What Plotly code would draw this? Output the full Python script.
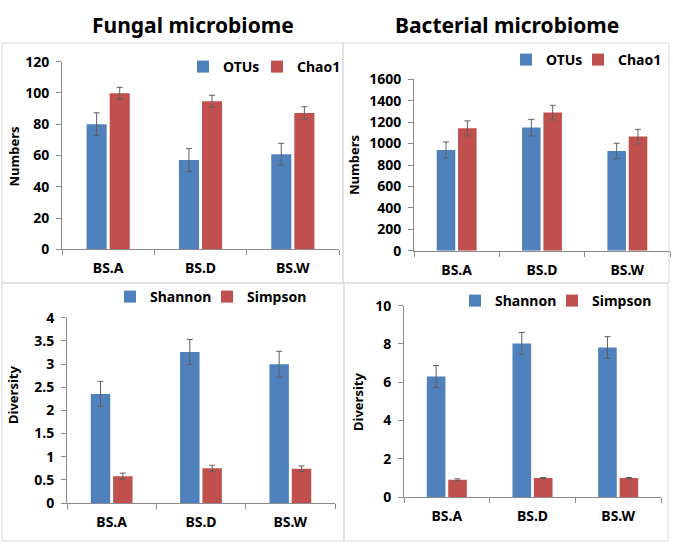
import plotly.graph_objects as go

W, H = 673, 544

categories = ["BS.A", "BS.D", "BS.W"]

fungal_otus = [80.0, 57.1, 60.8]
fungal_otus_err = [7.3, 7.3, 7.0]
fungal_chao1 = [99.8, 94.7, 87.2]
fungal_chao1_err = [3.8, 3.8, 4.0]

bact_otus = [940, 1149, 931]
bact_otus_err = [75, 77, 72]
bact_chao1 = [1142, 1289, 1065]
bact_chao1_err = [70, 68, 68]

fungal_shannon = [2.355, 3.26, 2.995]
fungal_shannon_err = [0.27, 0.27, 0.28]
fungal_simpson = [0.58, 0.75, 0.74]
fungal_simpson_err = [0.065, 0.065, 0.06]

bact_shannon = [6.30, 8.03, 7.81]
bact_shannon_err = [0.57, 0.57, 0.57]
bact_simpson = [0.90, 0.99, 0.99]
bact_simpson_err = [0.05, 0.03, 0.03]

BLUE = "#4F81BD"
RED = "#C0504D"
ERR = "#5f5f5f"
AXIS = "#8c8c8c"
FONT = "Noto Sans"


def px_x(p):
    return p / W


def px_y(p):
    return 1 - p / H


fig = go.Figure()

# (axis id, series, x px range, y px range (bottom, top), yrange, dtick, legend marker centres (x list, y))
panels = [
    ("", [("OTUs", fungal_otus, fungal_otus_err, BLUE), ("Chao1", fungal_chao1, fungal_chao1_err, RED)],
     (62, 339), (249.3, 61.7), [0, 120], 20, ([203, 277], 67)),
    ("2", [("OTUs", bact_otus, bact_otus_err, BLUE), ("Chao1", bact_chao1, bact_chao1_err, RED)],
     (414, 670), (250.7, 79.3), [0, 1600], 200, ([526, 598], 60)),
    ("3", [("Shannon", fungal_shannon, fungal_shannon_err, BLUE), ("Simpson", fungal_simpson, fungal_simpson_err, RED)],
     (67, 335), (503, 317.7), [0, 4], 0.5, ([130, 227], 297)),
    ("4", [("Shannon", bact_shannon, bact_shannon_err, BLUE), ("Simpson", bact_simpson, bact_simpson_err, RED)],
     (404, 661), (497, 305.7), [0, 10], 2, ([475, 572], 301)),
]

tickfont = dict(family=FONT, size=14, color="#000000", weight="bold")
legend_layouts = {}
leg_n = 0
layout_axes = {}
for axid, series, (x0, x1), (yb, yt), yr, dt, (lxs, ly) in panels:
    for (name, vals, errs, col), lx in zip(series, lxs):
        leg_n += 1
        leg = "legend" if leg_n == 1 else "legend%d" % leg_n
        fig.add_trace(go.Bar(
            x=categories, y=vals, name=name,
            marker=dict(color=col, line=dict(width=0)),
            error_y=dict(type="data", array=errs, visible=True, color=ERR, thickness=1, width=3),
            xaxis="x" + axid, yaxis="y" + axid, legend=leg,
        ))
        legend_layouts[leg] = dict(
            x=px_x(lx - 20), y=px_y(ly), xanchor="left", yanchor="middle",
            orientation="h", bgcolor="rgba(0,0,0,0)", itemwidth=30,
            font=dict(family=FONT, size=14, color="#000000", weight="bold"),
        )
    layout_axes["xaxis" + axid] = dict(
        domain=[px_x(x0), px_x(x1)], anchor="y" + axid,
        showline=True, linecolor=AXIS, linewidth=1,
        ticks="outside", ticklen=5, tickcolor=AXIS, tickson="boundaries",
        showgrid=False, zeroline=False, ticklabelstandoff=6,
        tickfont=tickfont, automargin=False,
    )
    layout_axes["yaxis" + axid] = dict(
        domain=[px_y(yb), px_y(yt)], anchor="x" + axid, range=yr, dtick=dt,
        showline=True, linecolor=AXIS, linewidth=1,
        ticks="outside", ticklen=5, tickcolor=AXIS,
        showgrid=False, zeroline=False, ticklabelstandoff=4,
        tickfont=tickfont, automargin=False,
    )

fig.update_layout(
    width=W, height=H,
    margin=dict(l=0, r=0, t=0, b=0, autoexpand=False),
    paper_bgcolor="white", plot_bgcolor="white",
    bargap=0.5, bargroupgap=0.13,
    showlegend=True,
    **legend_layouts,
    **layout_axes,
)

# panel frames
frames = [(2, 43, 343, 283), (343, 43, 669, 283), (2, 283, 344, 541), (344, 283, 668, 541)]
for (a, b, c, d) in frames:
    fig.add_shape(type="rect", xref="paper", yref="paper",
                  x0=px_x(a), x1=px_x(c), y0=px_y(d), y1=px_y(b),
                  line=dict(color="#d9d9d9", width=1), layer="below")

# titles
for txt, xp in [("Fungal microbiome", 193), ("Bacterial microbiome", 507)]:
    fig.add_annotation(text="<b>%s</b>" % txt, x=px_x(xp), y=px_y(25), xref="paper", yref="paper",
                       xanchor="center", yanchor="middle",
                       showarrow=False, font=dict(family=FONT, size=21, color="#000000"))

# axis titles
for txt, xp, yp in [("Numbers", 13.5, 157), ("Numbers", 354, 165), ("Diversity", 13, 395), ("Diversity", 358, 402)]:
    fig.add_annotation(text="<b>%s</b>" % txt, x=px_x(xp), y=px_y(yp), xref="paper", yref="paper",
                       xanchor="center", yanchor="middle",
                       showarrow=False, textangle=-90, font=dict(family=FONT, size=13, color="#000000"))

fig.write_html("out.html", config={"displayModeBar": False},
               post_script="document.body.style.margin='0';")
